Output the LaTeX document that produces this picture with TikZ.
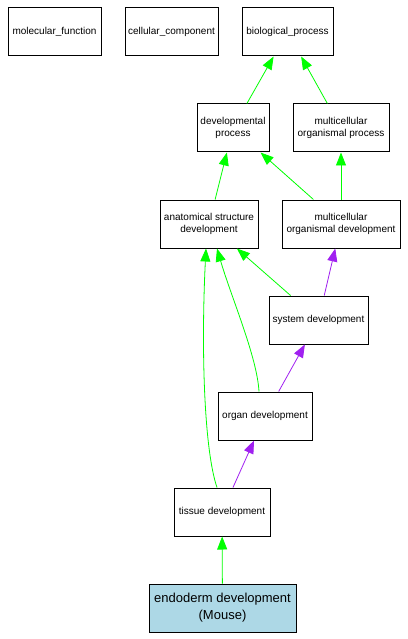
\documentclass[tikz,border=0pt]{standalone}
\usepackage{fontspec}
\setmainfont{Liberation Sans}
\usepackage{tikz}
\usetikzlibrary{arrows.meta,positioning,calc}
\definecolor{goGreen}{HTML}{00FF00}
\definecolor{goPurple}{HTML}{A020F0}
\definecolor{goBlueBg}{HTML}{ADD8E6}
\tikzset{
  term/.style={draw=black, line width=1pt, align=center, font=\fontsize{10}{12}\selectfont, minimum height=48pt, inner sep=1pt, fill=#1},
  term/.default=white,
  arrgreen/.style={-{Triangle[length=13pt,width=10pt]}, draw=goGreen, line width=0.8pt},
  arrpurple/.style={-{Triangle[length=13pt,width=10pt]}, draw=goPurple, line width=0.8pt},
}
\begin{document}
\begin{tikzpicture}[x=1pt, y=-1pt]
\useasboundingbox (0,0) rectangle (407,639);
% Ontology roots
\node[term, minimum width=93pt] (mf) at (54.5,32) {molecular\_function};
\node[term, minimum width=93pt] (cc) at (171.5,32) {cellular\_component};
\node[term, minimum width=91pt] (bp) at (287.5,32) {biological\_process};

% Intermediate terms
\node[term, minimum width=72pt] (dp) at (233,128) {developmental\\process};
\node[term, minimum width=96pt] (mop) at (341,128) {multicellular\\organismal process};
\node[term, minimum width=98pt] (asd) at (209,224) {anatomical structure\\development};
\node[term, minimum width=118pt] (mod) at (341,224) {multicellular\\organismal development};
\node[term, minimum width=99pt] (sd) at (318.5,320) {system development};
\node[term, minimum width=94pt] (od) at (265,416) {organ development};
\node[term, minimum width=96pt] (td) at (222,512) {tissue development};

% Query term
\node[term=goBlueBg, minimum width=147pt, font=\fontsize{13}{17}\selectfont] (ed) at (222.5,608) {endoderm development\\(Mouse)};

% Links
\draw[arrgreen] (dp) -- (bp);
\draw[arrgreen] (mop) -- (bp);
\draw[arrgreen] (asd) -- (dp);
\draw[arrgreen] (mod) -- (dp);
\draw[arrgreen] (mod) -- (mop);
\draw[arrgreen] (sd) -- (asd);
\draw[arrpurple] (sd) -- (mod);
\draw[arrpurple] (od) -- (sd);
\draw[arrgreen] ($(od.north)+(-6,0)$) .. controls +(-2,-35) and +(14,48) .. ($(asd.south)+(8,0)$);
\draw[arrgreen] ($(td.north)+(-5,0)$) .. controls +(-13,-38) and +(-5,100) .. ($(asd.south)+(-3,0)$);
\draw[arrpurple] (td) -- (od);
\draw[arrgreen] (ed) -- (td);
\end{tikzpicture}
\end{document}
